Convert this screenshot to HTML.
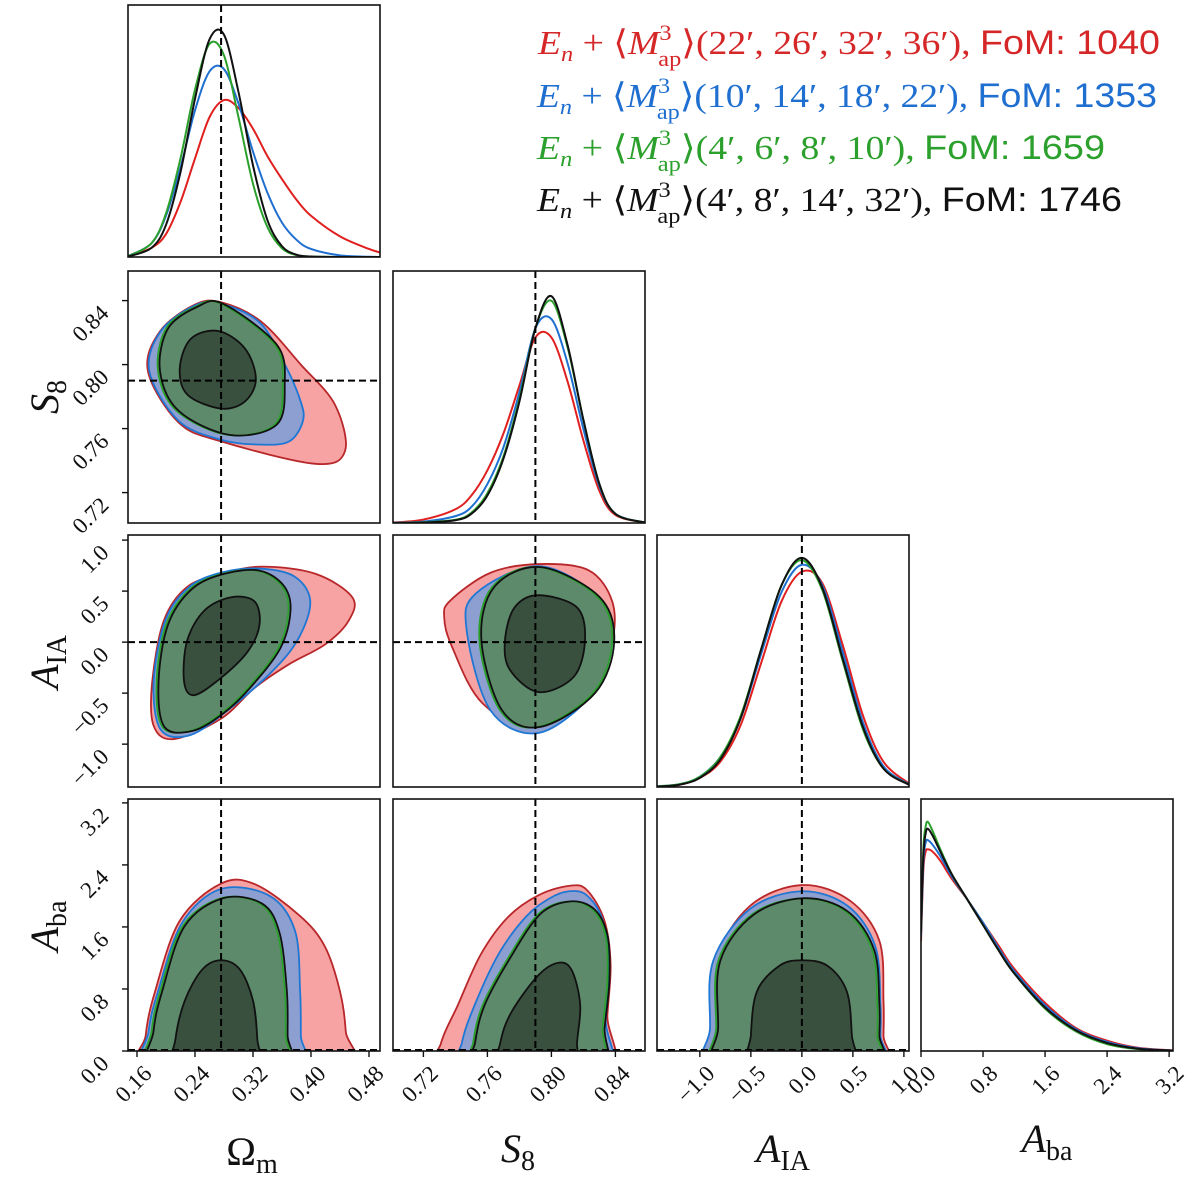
<!DOCTYPE html>
<html><head><meta charset="utf-8">
<style>
html,body{margin:0;padding:0;background:#fff;}
svg{display:block;}
.tk{font-family:"Liberation Serif","DejaVu Serif",serif;font-size:23px;fill:#111;}
.ax{font-family:"Liberation Serif","DejaVu Serif",serif;font-size:40px;fill:#111;}
.lg{font-family:"Liberation Serif","DejaVu Serif",serif;font-size:34px;}
.sans{font-family:"Liberation Sans","DejaVu Sans",sans-serif;font-style:normal;}
</style></head>
<body>
<svg id="fig" width="1200" height="1181" viewBox="0 0 1200 1181" xmlns="http://www.w3.org/2000/svg">
<g id="legend">
 <text class="lg" x="1160" y="54" text-anchor="end" fill="#d62728" textLength="622" lengthAdjust="spacingAndGlyphs"><tspan font-style="italic">E</tspan><tspan font-style="italic" font-size="22" dy="7">n</tspan><tspan dy="-7"> + ⟨</tspan><tspan font-style="italic">M</tspan><tspan font-size="22" dy="-14">3</tspan><tspan font-size="22" dx="-12" dy="26">ap</tspan><tspan dy="-12">⟩(22′, 26′, 32′, 36′), </tspan><tspan class="sans">FoM: 1040</tspan></text>
 <text class="lg" x="1157" y="107" text-anchor="end" fill="#1f6fd0" textLength="620" lengthAdjust="spacingAndGlyphs"><tspan font-style="italic">E</tspan><tspan font-style="italic" font-size="22" dy="7">n</tspan><tspan dy="-7"> + ⟨</tspan><tspan font-style="italic">M</tspan><tspan font-size="22" dy="-14">3</tspan><tspan font-size="22" dx="-12" dy="26">ap</tspan><tspan dy="-12">⟩(10′, 14′, 18′, 22′), </tspan><tspan class="sans">FoM: 1353</tspan></text>
 <text class="lg" x="1105" y="159" text-anchor="end" fill="#2ca02c" textLength="568" lengthAdjust="spacingAndGlyphs"><tspan font-style="italic">E</tspan><tspan font-style="italic" font-size="22" dy="7">n</tspan><tspan dy="-7"> + ⟨</tspan><tspan font-style="italic">M</tspan><tspan font-size="22" dy="-14">3</tspan><tspan font-size="22" dx="-12" dy="26">ap</tspan><tspan dy="-12">⟩(4′, 6′, 8′, 10′), </tspan><tspan class="sans">FoM: 1659</tspan></text>
 <text class="lg" x="1122" y="211" text-anchor="end" fill="#111" textLength="585" lengthAdjust="spacingAndGlyphs"><tspan font-style="italic">E</tspan><tspan font-style="italic" font-size="22" dy="7">n</tspan><tspan dy="-7"> + ⟨</tspan><tspan font-style="italic">M</tspan><tspan font-size="22" dy="-14">3</tspan><tspan font-size="22" dx="-12" dy="26">ap</tspan><tspan dy="-12">⟩(4′, 8′, 14′, 32′), </tspan><tspan class="sans">FoM: 1746</tspan></text>
</g>
<g>
 <text class="ax" x="252" y="1165" text-anchor="middle">Ω<tspan font-size="28" dy="8">m</tspan></text>
 <text class="ax" x="518" y="1162" text-anchor="middle"><tspan font-style="italic">S</tspan><tspan font-size="28" dy="8">8</tspan></text>
 <text class="ax" x="783" y="1162" text-anchor="middle"><tspan font-style="italic">A</tspan><tspan font-size="28" dy="8">IA</tspan></text>
 <text class="ax" x="1047" y="1152" text-anchor="middle"><tspan font-style="italic">A</tspan><tspan font-size="28" dy="8">ba</tspan></text>
</g>
<g>
 <text class="ax" transform="translate(58,397) rotate(-90)" text-anchor="middle"><tspan font-style="italic">S</tspan><tspan font-size="28" dy="8">8</tspan></text>
 <text class="ax" transform="translate(58,662) rotate(-90)" text-anchor="middle"><tspan font-style="italic">A</tspan><tspan font-size="28" dy="8">IA</tspan></text>
 <text class="ax" transform="translate(58,926) rotate(-90)" text-anchor="middle"><tspan font-style="italic">A</tspan><tspan font-size="28" dy="8">ba</tspan></text>
</g>
<g id="plots"></g>
</svg>
<script>
// ---------- data ----------
const params = ['Om','S8','AIA','Aba'];
const domains = {Om:[0.1476,0.4952], S8:[0.701,0.8585], AIA:[-1.42,1.05], Aba:[0,3.25]};
const truth = {Om:0.276, S8:0.79, AIA:0.0, Aba:0.0};
const seriesNames = ['red','blue','green','black'];
const tickOm = [0.16,0.24,0.32,0.40,0.48];
const tickOmLabels = ['0.16','0.24','0.32','0.40','0.48'];
const tickS8 = [0.72,0.76,0.80,0.84];
const tickS8Labels = ['0.72','0.76','0.80','0.84'];
const tickAIA = [-1.0,-0.5,0.0,0.5,1.0];
const tickAIALabels = ['−1.0','−0.5','0.0','0.5','1.0'];
const tickAba = [0.0,0.8,1.6,2.4,3.2];
const tickAbaLabels = ['0.0','0.8','1.6','2.4','3.2'];

// 1D marginal grids and densities
const gridOm = [0.1476,0.18,0.20,0.22,0.24,0.26,0.28,0.30,0.32,0.34,0.36,0.38,0.40,0.44,0.48,0.495];
const margOm_red   = [0.003,0.04,0.10,0.24,0.43,0.61,0.685,0.65,0.56,0.44,0.34,0.25,0.18,0.09,0.035,0.02];
const margOm_blue  = [0.004,0.06,0.18,0.39,0.64,0.81,0.82,0.67,0.46,0.28,0.15,0.075,0.035,0.007,0.001,0];
const margOm_green = [0.003,0.06,0.19,0.43,0.73,0.93,0.88,0.61,0.32,0.13,0.038,0.008,0.002,0,0,0];
const margOm_black = [0.002,0.04,0.14,0.37,0.69,0.95,0.97,0.72,0.40,0.16,0.047,0.01,0.002,0,0,0];
const gridS8 = [0.701,0.72,0.74,0.75,0.76,0.77,0.78,0.79,0.80,0.81,0.82,0.83,0.84,0.8585];
const margS8_red   = [0.002,0.015,0.06,0.12,0.23,0.39,0.60,0.81,0.81,0.62,0.36,0.14,0.035,0.002];
const margS8_blue  = [0.001,0.006,0.03,0.07,0.17,0.33,0.57,0.85,0.89,0.70,0.41,0.16,0.04,0.002];
const margS8_green = [0,0.003,0.014,0.045,0.13,0.29,0.54,0.85,0.97,0.77,0.45,0.17,0.04,0.002];
const margS8_black = [0,0.002,0.012,0.04,0.12,0.28,0.53,0.85,0.99,0.78,0.45,0.17,0.04,0.002];
const gridAIA = [-1.42,-1.2,-1.0,-0.8,-0.6,-0.4,-0.2,0,0.2,0.4,0.6,0.8,1.05];
const margAIA_red   = [0.002,0.01,0.04,0.11,0.27,0.54,0.81,0.94,0.89,0.62,0.31,0.11,0.015];
const margAIA_blue  = [0.003,0.012,0.045,0.13,0.30,0.58,0.85,0.97,0.88,0.59,0.28,0.09,0.012];
const margAIA_green = [0.003,0.012,0.045,0.13,0.31,0.60,0.88,0.99,0.86,0.55,0.25,0.08,0.01];
const margAIA_black = [0.002,0.01,0.04,0.12,0.30,0.60,0.88,1.0,0.87,0.56,0.26,0.08,0.01];
const gridAba = [0,0.03,0.06,0.09,0.15,0.25,0.4,0.6,0.8,1.0,1.2,1.6,2.0,2.4,2.8,3.25];
const margAba_red   = [0.48,0.79,0.87,0.88,0.87,0.83,0.75,0.66,0.56,0.46,0.36,0.21,0.10,0.045,0.014,0.003];
const margAba_blue  = [0.50,0.82,0.91,0.92,0.90,0.85,0.76,0.66,0.56,0.45,0.35,0.20,0.095,0.04,0.012,0.002];
const margAba_green = [0.52,0.88,0.98,1.0,0.96,0.88,0.77,0.66,0.55,0.44,0.34,0.185,0.085,0.03,0.008,0.001];
const margAba_black = [0.52,0.85,0.95,0.97,0.94,0.87,0.77,0.66,0.55,0.44,0.34,0.19,0.09,0.035,0.01,0.002];

// 2D contours [x,y] in data units: red 95%, blue 95%, green/black 95%, black 68%
const omS8_red95 = [[0.276,0.839],[0.331,0.827],[0.386,0.800],[0.433,0.775],[0.447,0.746],[0.406,0.738],[0.276,0.752],[0.217,0.764],[0.175,0.796],[0.192,0.821],[0.240,0.8375]];
const omS8_blue95 = [[0.276,0.838],[0.330,0.826],[0.364,0.800],[0.385,0.778],[0.389,0.765],[0.370,0.752],[0.330,0.750],[0.276,0.753],[0.217,0.765],[0.177,0.796],[0.193,0.821],[0.240,0.837]];
const omS8_green95 = [[0.276,0.838],[0.350,0.8125],[0.361,0.7875],[0.350,0.7625],[0.286,0.756],[0.215,0.771],[0.189,0.796],[0.200,0.8225],[0.240,0.836]];
const omS8_black68 = [[0.272,0.821],[0.309,0.810],[0.324,0.791],[0.309,0.777],[0.276,0.7725],[0.230,0.781],[0.219,0.7975],[0.234,0.816]];

const omAIA_red95 = [[0.278,0.67],[0.332,0.74],[0.406,0.67],[0.457,0.44],[0.452,0.21],[0.420,-0.02],[0.369,-0.22],[0.322,-0.45],[0.276,-0.75],[0.211,-0.95],[0.183,-0.82],[0.181,-0.39],[0.197,0.21],[0.229,0.54]];
const omAIA_blue95 = [[0.278,0.685],[0.332,0.72],[0.378,0.64],[0.399,0.40],[0.383,0.04],[0.346,-0.29],[0.276,-0.72],[0.229,-0.92],[0.192,-0.85],[0.183,-0.39],[0.199,0.21],[0.232,0.54]];
const omAIA_green95 = [[0.278,0.67],[0.327,0.70],[0.360,0.55],[0.369,0.31],[0.355,-0.06],[0.313,-0.45],[0.276,-0.70],[0.234,-0.87],[0.195,-0.83],[0.187,-0.39],[0.200,0.17],[0.233,0.52]];
const omAIA_black68 = [[0.290,0.44],[0.322,0.40],[0.329,0.17],[0.313,-0.09],[0.276,-0.35],[0.239,-0.52],[0.225,-0.39],[0.229,0.01],[0.253,0.31]];

const s8AIA_red95 = [[0.792,0.765],[0.823,0.706],[0.838,0.40],[0.838,0.0],[0.826,-0.50],[0.792,-0.87],[0.757,-0.60],[0.738,-0.05],[0.733,0.245],[0.737,0.41],[0.762,0.68]];
const s8AIA_blue95 = [[0.792,0.745],[0.829,0.44],[0.838,0.0],[0.826,-0.50],[0.792,-0.89],[0.762,-0.67],[0.747,0.12],[0.753,0.48]];
const s8AIA_green95 = [[0.792,0.735],[0.829,0.44],[0.838,0.0],[0.826,-0.50],[0.792,-0.83],[0.768,-0.67],[0.755,0.02],[0.763,0.54]];
const s8AIA_black68 = [[0.792,0.46],[0.816,0.34],[0.821,0.02],[0.814,-0.34],[0.792,-0.49],[0.774,-0.27],[0.771,0.02],[0.777,0.34]];

const omAba_red95 = [[0.171,-0.4],[0.172,0.2],[0.185,0.77],[0.219,1.68],[0.276,2.16],[0.323,2.15],[0.385,1.74],[0.419,1.35],[0.440,0.77],[0.448,0.25],[0.450,-0.4]];
const omAba_blue95 = [[0.174,-0.4],[0.176,0.25],[0.189,0.77],[0.222,1.65],[0.276,2.09],[0.343,2.0],[0.378,1.55],[0.385,0.77],[0.386,0.2],[0.386,-0.4]];
const omAba_green95 = [[0.178,-0.4],[0.180,0.25],[0.192,0.77],[0.223,1.61],[0.276,1.97],[0.330,1.90],[0.354,1.52],[0.364,0.77],[0.365,0.2],[0.365,-0.4]];
const omAba_black68 = [[0.211,-0.4],[0.213,0.15],[0.226,0.65],[0.250,1.05],[0.276,1.17],[0.302,1.05],[0.320,0.65],[0.326,0.15],[0.327,-0.4]];

const s8Aba_red95 = [[0.729,-0.4],[0.731,0.1],[0.7415,0.59],[0.756,1.25],[0.773,1.73],[0.792,2.01],[0.811,2.13],[0.822,2.08],[0.833,1.69],[0.837,1.12],[0.835,0.46],[0.833,-0.4]];
const s8Aba_blue95 = [[0.7425,-0.4],[0.744,0.1],[0.752,0.59],[0.767,1.25],[0.784,1.73],[0.799,1.97],[0.811,2.06],[0.822,2.01],[0.832,1.69],[0.836,1.12],[0.834,0.4],[0.833,-0.4]];
const s8Aba_green95 = [[0.749,-0.4],[0.751,0.1],[0.757,0.59],[0.773,1.20],[0.792,1.77],[0.811,1.93],[0.826,1.82],[0.834,1.47],[0.835,0.90],[0.832,0.3],[0.829,-0.4]];
const s8Aba_black68 = [[0.766,-0.4],[0.768,0.1],[0.775,0.50],[0.792,0.98],[0.805,1.14],[0.813,1.03],[0.818,0.59],[0.816,0.1],[0.815,-0.4]];

const aiaAba_red95 = [[-0.88,-0.4],[-0.88,0.3],[-0.85,1.16],[-0.51,1.87],[0,2.14],[0.47,1.94],[0.76,1.42],[0.80,0.65],[0.80,0.2],[0.79,-0.4]];
const aiaAba_blue95 = [[-0.90,-0.4],[-0.90,0.3],[-0.87,1.16],[-0.51,1.83],[0,2.06],[0.45,1.87],[0.72,1.35],[0.77,0.60],[0.77,0.2],[0.76,-0.4]];
const aiaAba_green95 = [[-0.84,-0.4],[-0.84,0.3],[-0.82,1.16],[-0.49,1.76],[0,1.97],[0.43,1.80],[0.69,1.30],[0.74,0.60],[0.74,0.2],[0.73,-0.4]];
const aiaAba_black68 = [[-0.50,-0.4],[-0.50,0.2],[-0.44,0.77],[-0.22,1.10],[0,1.17],[0.25,1.10],[0.44,0.77],[0.49,0.2],[0.50,-0.4]];

// ---------- layout ----------
const colX = [128,393,657,921], rowY = [5,271,535,799], S = 252;
const lineC = {red:'#e0201f', blue:'#1f6fd0', green:'#2ca02c', black:'#111'};
const NS = 'http://www.w3.org/2000/svg';
const root = document.getElementById('plots');
function el(tag, attrs, parent){ const e=document.createElementNS(NS,tag); for(const k in attrs) e.setAttribute(k,attrs[k]); (parent||root).appendChild(e); return e; }
function sx(p,v,c){ const d=domains[p]; return colX[c]+(v-d[0])/(d[1]-d[0])*S; }
function sy(p,v,r){ const d=domains[p]; return rowY[r]+S-(v-d[0])/(d[1]-d[0])*S; }
function crOpen(pts){ let s='M'+pts[0][0].toFixed(2)+','+pts[0][1].toFixed(2);
  for(let i=0;i<pts.length-1;i++){ const p0=pts[Math.max(i-1,0)],p1=pts[i],p2=pts[i+1],p3=pts[Math.min(i+2,pts.length-1)];
    s+=' C'+(p1[0]+(p2[0]-p0[0])/6).toFixed(2)+','+(p1[1]+(p2[1]-p0[1])/6).toFixed(2)+' '+(p2[0]-(p3[0]-p1[0])/6).toFixed(2)+','+(p2[1]-(p3[1]-p1[1])/6).toFixed(2)+' '+p2[0].toFixed(2)+','+p2[1].toFixed(2);} return s; }
function crClosed(pts){ const n=pts.length; let s='M'+pts[0][0].toFixed(2)+','+pts[0][1].toFixed(2);
  for(let i=0;i<n;i++){ const p0=pts[(i-1+n)%n],p1=pts[i],p2=pts[(i+1)%n],p3=pts[(i+2)%n];
    s+=' C'+(p1[0]+(p2[0]-p0[0])/6).toFixed(2)+','+(p1[1]+(p2[1]-p0[1])/6).toFixed(2)+' '+(p2[0]-(p3[0]-p1[0])/6).toFixed(2)+','+(p2[1]-(p3[1]-p1[1])/6).toFixed(2)+' '+p2[0].toFixed(2)+','+p2[1].toFixed(2);} return s+'Z'; }

const defs = el('defs',{});
function panelGroup(r,c,name){
  const cp = el('clipPath',{id:'cp'+r+c},defs);
  el('rect',{x:colX[c],y:rowY[r],width:S,height:S},cp);
  const g = el('g',{'clip-path':'url(#cp'+r+c+')'});
  
  
  return g;
}
function dashV(p,v,r,c,g){ const x=sx(p,v,c); const l=el('line',{x1:x,x2:x,y1:rowY[r],y2:rowY[r]+S,stroke:'#000','stroke-width':2,'stroke-dasharray':'7,4'},g);
    }
function dashH(p,v,r,c,g){ const y=Math.min(sy(p,v,r),rowY[r]+S-1); const l=el('line',{x1:colX[c],x2:colX[c]+S,y1:y,y2:y,stroke:'#000','stroke-width':2,'stroke-dasharray':'7,4'},g);
    }

// 1D marginals
const margData = {
  Om:{grid:gridOm, red:margOm_red, blue:margOm_blue, green:margOm_green, black:margOm_black},
  S8:{grid:gridS8, red:margS8_red, blue:margS8_blue, green:margS8_green, black:margS8_black},
  AIA:{grid:gridAIA, red:margAIA_red, blue:margAIA_blue, green:margAIA_green, black:margAIA_black},
  Aba:{grid:gridAba, red:margAba_red, blue:margAba_blue, green:margAba_green, black:margAba_black}
};
params.forEach((p,i)=>{
  const g = panelGroup(i,i,'marginal-'+p.toLowerCase());
  const m = margData[p];
  seriesNames.forEach(s=>{
    const pts = m.grid.map((v,k)=>[sx(p,v,i), rowY[i]+S - m[s][k]/1.1*S]);
    const path = el('path',{d:crOpen(pts),fill:'none',stroke:lineC[s],'stroke-width':2},g);
    
    
  });
  if(p!=='Aba') dashV(p,truth[p],i,i,g);
});

// 2D contours
const pairs = [
  {px:'Om',py:'S8',r:1,c:0,d:[omS8_red95,omS8_blue95,omS8_green95,omS8_black68]},
  {px:'Om',py:'AIA',r:2,c:0,d:[omAIA_red95,omAIA_blue95,omAIA_green95,omAIA_black68]},
  {px:'S8',py:'AIA',r:2,c:1,d:[s8AIA_red95,s8AIA_blue95,s8AIA_green95,s8AIA_black68]},
  {px:'Om',py:'Aba',r:3,c:0,d:[omAba_red95,omAba_blue95,omAba_green95,omAba_black68]},
  {px:'S8',py:'Aba',r:3,c:1,d:[s8Aba_red95,s8Aba_blue95,s8Aba_green95,s8Aba_black68]},
  {px:'AIA',py:'Aba',r:3,c:2,d:[aiaAba_red95,aiaAba_blue95,aiaAba_green95,aiaAba_black68]}
];
const styles = [
  {fill:'#f8a3a3',stroke:'#b8272a',n:'contour-red-95'},
  {fill:'#8c9fd0',stroke:'#1f77d4',n:'contour-blue-95'},
  {fill:'#5e8a6c',stroke:'#2ca02c',n:'contour-green-95'},
  {fill:'#39503f',stroke:'#111',n:'contour-black-68'}
];
pairs.forEach(pr=>{
  const g = panelGroup(pr.r,pr.c,'contour-panel-'+pr.px.toLowerCase()+'-'+pr.py.toLowerCase());
  pr.d.forEach((poly,k)=>{
    const pts = poly.map(q=>[sx(pr.px,q[0],pr.c), sy(pr.py,q[1],pr.r)]);
    const st = styles[k];
    const path = el('path',{d:crClosed(pts),fill:st.fill,stroke:st.stroke,'stroke-width':1.8},g);
    
    
    if(k===2){
      const b = el('path',{d:crClosed(pts),fill:'none',stroke:'#111','stroke-width':1.8,transform:'translate(2,0)'},g);
      
      
    }
  });
  dashV(pr.px,truth[pr.px],pr.r,pr.c,g);
  dashH(pr.py,truth[pr.py],pr.r,pr.c,g);
});

// frames
for(let r=0;r<4;r++) for(let c=0;c<=r;c++){
  const f = el('rect',{x:colX[c],y:rowY[r],width:S,height:S,fill:'none',stroke:'#111','stroke-width':1.6});
  
  
}

// ticks
const tickSets = {Om:[tickOm,tickOmLabels], S8:[tickS8,tickS8Labels], AIA:[tickAIA,tickAIALabels], Aba:[tickAba,tickAbaLabels]};
params.forEach((p,c)=>{ // bottom row x ticks
  const [vals,labs] = tickSets[p]; const yb = rowY[3]+S;
  vals.forEach((v,k)=>{
    const x = sx(p,v,c);
    const t = el('line',{x1:x,x2:x,y1:yb,y2:yb+6,stroke:'#111','stroke-width':1.4});
     
    const ax = x+16, ay = yb+24;
    const tx = el('text',{class:'tk',x:ax,y:ay,'text-anchor':'end',transform:'rotate(-45 '+ax+' '+ay+')'});
    tx.textContent = labs[k];
     
  });
});
params.forEach((p,r)=>{ if(r===0) return; // left column y ticks
  const [vals,labs] = tickSets[p]; const xl = colX[0];
  vals.forEach((v,k)=>{
    const y = sy(p,v,r);
    const t = el('line',{x1:xl-6,x2:xl,y1:y,y2:y,stroke:'#111','stroke-width':1.4});
     
    const ax = xl-18, ay = y+14;
    const tx = el('text',{class:'tk',x:ax,y:ay,'text-anchor':'end',transform:'rotate(-45 '+ax+' '+ay+')'});
    tx.textContent = labs[k];
     
  });
});
</script>
</body></html>
